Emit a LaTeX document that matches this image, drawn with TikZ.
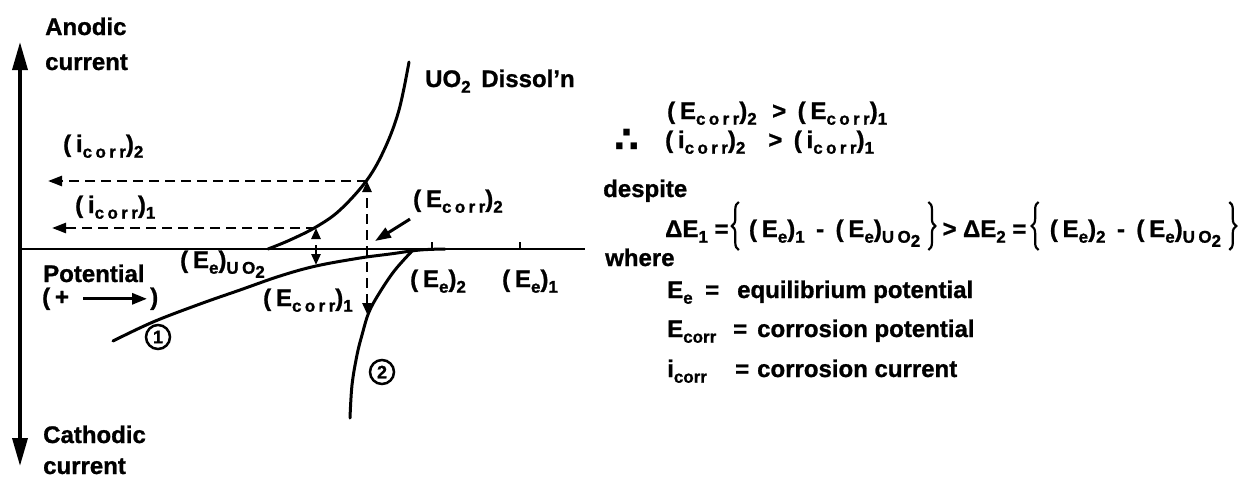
\documentclass[tikz,border=0pt]{standalone}
\usepackage{fontspec}
\setmainfont{Liberation Sans}[BoldFeatures={FakeBold=1}]
\newfontfamily\fm{Liberation Sans}[LetterSpace=20,BoldFeatures={FakeBold=1}]
\newfontfamily\dvfont{DejaVu Sans}
\usetikzlibrary{arrows.meta,decorations.pathreplacing}
\newcommand\sbx[1]{\raisebox{-0.45ex}{\fontsize{17}{17}\selectfont #1}}
\begin{document}
\begin{tikzpicture}[x=1pt,y=-1pt,
  lbl/.style={inner sep=0pt,anchor=base west,font=\fm\bfseries\fontsize{24}{28}\selectfont},
  txt/.style={inner sep=0pt,anchor=base west,font=\bfseries\fontsize{24}{28}\selectfont},
  curve/.style={line width=3pt,line cap=round},
  dsh/.style={line width=2.5pt,dash pattern=on 10pt off 6pt},
  tip/.style={-{Triangle[length=14pt,width=10pt]}},
  tipboth/.style={{Triangle[length=11pt,width=9pt]}-{Triangle[length=11pt,width=9pt]}},
  brc/.style={decorate,decoration={brace,amplitude=7pt},line width=2.2pt},
  circ/.style={circle,draw,line width=2.5pt,minimum size=24pt,inner sep=0pt,font=\bfseries\fontsize{18}{18}\selectfont}]
\useasboundingbox (0,0) rectangle (1258,477);

% axes
\coordinate (ytop) at (20,42);
\coordinate (ybot) at (20,466);
\coordinate (o) at (20,249);
\coordinate (xend) at (585,249);
\draw[line width=3.5pt,{Triangle[length=28pt,width=15pt]}-{Triangle[length=28pt,width=15pt]}] (ybot) -- (ytop);
\draw[line width=2.5pt] (o) -- (xend);
\coordinate (t2) at (432,249);
\coordinate (t1) at (520,249);
\draw[line width=2pt] (t2) -- ++(0,-7);
\draw[line width=2pt] (t1) -- ++(0,-7);

% curves
\draw[curve] plot[smooth,tension=0.6] coordinates {(268,249) (290,240) (316,227) (340,210) (367,180) (385,148) (399,110) (409,62)};
\draw[curve] plot[smooth,tension=0.6] coordinates {(113,341) (153,322) (200,304) (240,290) (280,276) (316,266) (360,258) (390,254) (420,250) (445,249)};
\draw[curve] plot[smooth,tension=0.6] coordinates {(350,418) (352,385) (357,355) (362,335) (369,312) (380,292) (395,270) (413,250)};

% key points
\coordinate (a1) at (316,228);
\coordinate (c1) at (316,265);
\coordinate (a2) at (367,181);
\coordinate (c2) at (367,314);
\coordinate (i2e) at (48,181);
\coordinate (i1e) at (52,228);
\coordinate (pt2) at (375,241);

\draw[dsh,tip] (a2) -- (i2e);
\draw[dsh,tip] (a1) -- (i1e);
\draw[dsh,tipboth] (c1) -- (a1);
\draw[dsh,tipboth] (c2) -- (a2);

% labels left
\node[txt] (anod) at (45,35) {Anodic};
\node[txt] (curt) at (45,70) {current};
\node[lbl] (i2l) at (63,152) {(i\sbx{corr})\sbx{2}};
\node[lbl] (i1l) at (75,213) {(i\sbx{corr})\sbx{1}};
\node[txt] (pot) at (43,282) {Potential};
\node[lbl] (pp) at (42,305) {(+};
\node[lbl] (pq) at (150,305) {)};
\draw[line width=3pt,-{Triangle[length=15pt,width=11pt]}] ([xshift=14pt]pp.east) -- ([xshift=-3pt]pq.west);
\node[lbl] (eeuo) at (180,268) {(E\sbx{e})\sbx{UO\sbx{2}}};
\node[lbl] (ec1) at (263,306) {(E\sbx{corr})\sbx{1}};
\node[lbl] (ee2) at (410,287) {(E\sbx{e})\sbx{2}};
\node[lbl] (ee1) at (502,287) {(E\sbx{e})\sbx{1}};
\node[lbl] (ec2) at (413,207) {(E\sbx{corr})\sbx{2}};
\draw[line width=3pt,-{Triangle[length=16pt,width=11pt]}] ([shift={(-3,6)}]ec2.south west) -- (pt2);
\node[txt] (uod) at (425,87) {UO\sbx{2} \,Dissol’n};
\node[txt] (cath) at (43,443) {Cathodic};
\node[txt] (curb) at (43,474) {current};
\node[circ] (n1) at (158,337) {1};
\node[circ] (n2) at (382,372) {2};

% right text
\node[lbl] (r1) at (667,119) {(E\sbx{corr})\sbx{2} \,> (E\sbx{corr})\sbx{1}};
\node[inner sep=0pt,font=\dvfont\bfseries\fontsize{36}{36}\selectfont] (thf) at (627,141) {∴};
\node[lbl] (r2) at (665,148) {(i\sbx{corr})\sbx{2}\ \ > (i\sbx{corr})\sbx{1}};
\node[txt] (desp) at (603,197) {despite};
\coordinate (yt) at (0,202);
\coordinate (yb) at (0,250);
\node[txt] (de1) at (665,237) {ΔE\sbx{1} =};
\coordinate (b1) at ([xshift=10pt]de1.base east);
\draw[brc] (b1 |- yb) -- (b1 |- yt);
\node[lbl] (f1) at ([xshift=20pt]de1.base east) {(E\sbx{e})\sbx{1} - (E\sbx{e})\sbx{UO\sbx{2}}};
\coordinate (b2) at ([xshift=8pt]f1.base east);
\draw[brc] (b2 |- yt) -- (b2 |- yb);
\node[txt] (gt) at ([xshift=22pt]f1.base east) {>};
\node[txt] (de2) at ([xshift=6pt]gt.base east) {ΔE\sbx{2} =};
\coordinate (b3) at ([xshift=12pt]de2.base east);
\draw[brc] (b3 |- yb) -- (b3 |- yt);
\node[lbl] (f2) at ([xshift=23pt]de2.base east) {(E\sbx{e})\sbx{2} - (E\sbx{e})\sbx{UO\sbx{2}}};
\coordinate (b4) at ([xshift=8pt]f2.base east);
\draw[brc] (b4 |- yt) -- (b4 |- yb);
\node[txt] (wh) at (605,266) {where};
\node[txt] (d1) at (667,298) {\makebox[38pt][l]{E\sbx{e}}\makebox[32pt][l]{=}equilibrium potential};
\node[txt] (d2) at (667,337) {\makebox[66pt][l]{E\sbx{corr}}\makebox[24pt][l]{=}corrosion potential};
\node[txt] (d3) at (667,377) {\makebox[68pt][l]{i\sbx{corr}}\makebox[22pt][l]{=}corrosion current};
\end{tikzpicture}
\end{document}
